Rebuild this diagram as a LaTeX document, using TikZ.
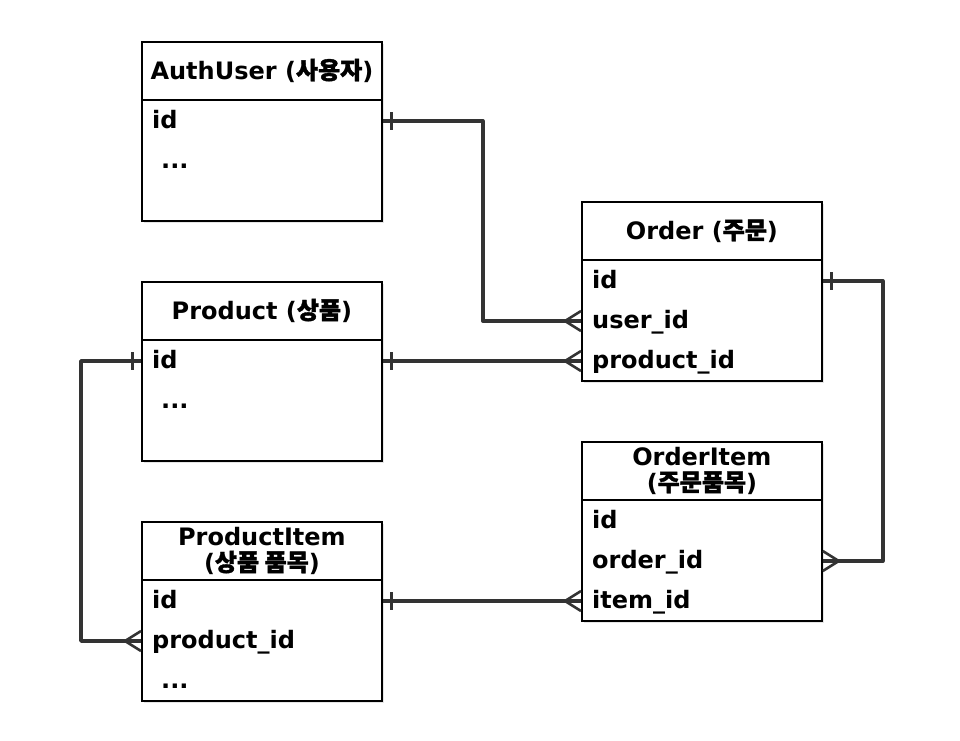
\documentclass[tikz,border=0pt]{standalone}
\usepackage{fontspec}
\setmainfont{DejaVu Sans}
\newfontfamily\kr[FakeBold=1.5]{Noto Sans CJK KR}
\usetikzlibrary{calc}
\definecolor{lnk}{HTML}{333333}
\begin{document}
\begin{tikzpicture}[x=1pt,y=-1pt,
  ebox/.style={draw=black, line width=1.8pt, fill=white, minimum width=240pt, minimum height=179pt, anchor=north west, inner sep=0pt},
  shad/.style={fill=black!10, draw=none, minimum width=240pt, minimum height=179pt, anchor=north west, inner sep=0pt},
  hdr/.style={font=\fontsize{24}{28}\selectfont\bfseries, anchor=base, inner sep=0pt},
  fld/.style={font=\fontsize{24}{28}\selectfont\bfseries, anchor=west, inner sep=0pt, text height=17.5pt, text depth=2pt},
  sep/.style={line width=1.8pt},
  conn/.style={draw=lnk, line width=3.6pt, line join=round},
  onemark/.pic={\draw[draw=lnk, line width=3pt] (9,-9) -- (9,9);},
  crow/.pic={\draw[draw=lnk, line width=2.6pt, line join=round] (0,-10) -- (-16,0) -- (0,10) (-16,0) -- (0,0);}
]
\useasboundingbox (0,0) rectangle (960,740);

% shadows
\node[shad] (au-s) at (144,44) {};
\node[shad] (ord-s) at (584,204) {};
\node[shad] (pr-s) at (144,284) {};
\node[shad] (pi-s) at (144,524) {};
\node[shad] (oi-s) at (584,444) {};

% AuthUser
\node[ebox] (au) at (141,41) {};
\draw[sep] ($(au.north west)+(0,59)$) -- ($(au.north east)+(0,59)$);
\node[hdr] (au-h) at ($(au.north)+(0,38)$) {AuthUser ({\kr 사용자})};
\node[fld] (au-id) at (152,121) {id};
\node[fld] (au-dots) at (161,161) {...};

% Order
\node[ebox] (ord) at (581,201) {};
\draw[sep] ($(ord.north west)+(0,59)$) -- ($(ord.north east)+(0,59)$);
\node[hdr] (ord-h) at ($(ord.north)+(0,38)$) {Order ({\kr 주문})};
\node[fld] (ord-id) at (592,281) {id};
\node[fld] (ord-user) at (592,321) {user\_id};
\node[fld] (ord-prod) at (592,361) {product\_id};

% Product
\node[ebox] (pr) at (141,281) {};
\draw[sep] ($(pr.north west)+(0,59)$) -- ($(pr.north east)+(0,59)$);
\node[hdr] (pr-h) at ($(pr.north)+(0,38)$) {Product ({\kr 상품})};
\node[fld] (pr-id) at (152,361) {id};
\node[fld] (pr-dots) at (161,401) {...};

% ProductItem
\node[ebox] (pi) at (141,521) {};
\draw[sep] ($(pi.north west)+(0,59)$) -- ($(pi.north east)+(0,59)$);
\node[hdr] (pi-h1) at ($(pi.north)+(0,24)$) {ProductItem};
\node[hdr] (pi-h2) at ($(pi.north)+(0,50)$) {({\kr 상품 품목})};
\node[fld] (pi-id) at (152,601) {id};
\node[fld] (pi-prod) at (152,641) {product\_id};
\node[fld] (pi-dots) at (161,681) {...};

% OrderItem
\node[ebox] (oi) at (581,441) {};
\draw[sep] ($(oi.north west)+(0,59)$) -- ($(oi.north east)+(0,59)$);
\node[hdr] (oi-h1) at ($(oi.north)+(0,24)$) {OrderItem};
\node[hdr] (oi-h2) at ($(oi.north)+(0,50)$) {({\kr 주문품목})};
\node[fld] (oi-id) at (592,521) {id};
\node[fld] (oi-order) at (592,561) {order\_id};
\node[fld] (oi-item) at (592,601) {item\_id};

% connectors
\draw[conn] (au.east |- au-id) -- ++(100,0) |- (ord.west |- ord-user);
\draw[conn] (pr.east |- pr-id) -- (ord.west |- ord-prod);
\draw[conn] (ord.east |- ord-id) -- ++(60,0) |- (oi.east |- oi-order);
\draw[conn] (pi.east |- pi-id) -- (oi.west |- oi-item);
\draw[conn] (pr.west |- pr-id) -- ++(-60,0) |- (pi.west |- pi-prod);

% end marks
\pic at (au.east |- au-id) {onemark};
\pic at (pr.east |- pr-id) {onemark};
\pic at (ord.east |- ord-id) {onemark};
\pic at (pi.east |- pi-id) {onemark};
\pic[xscale=-1] at (pr.west |- pr-id) {onemark};
\pic at (ord.west |- ord-user) {crow};
\pic at (ord.west |- ord-prod) {crow};
\pic at (oi.west |- oi-item) {crow};
\pic at (pi.west |- pi-prod) {crow};
\pic[xscale=-1] at (oi.east |- oi-order) {crow};
\end{tikzpicture}
\end{document}
